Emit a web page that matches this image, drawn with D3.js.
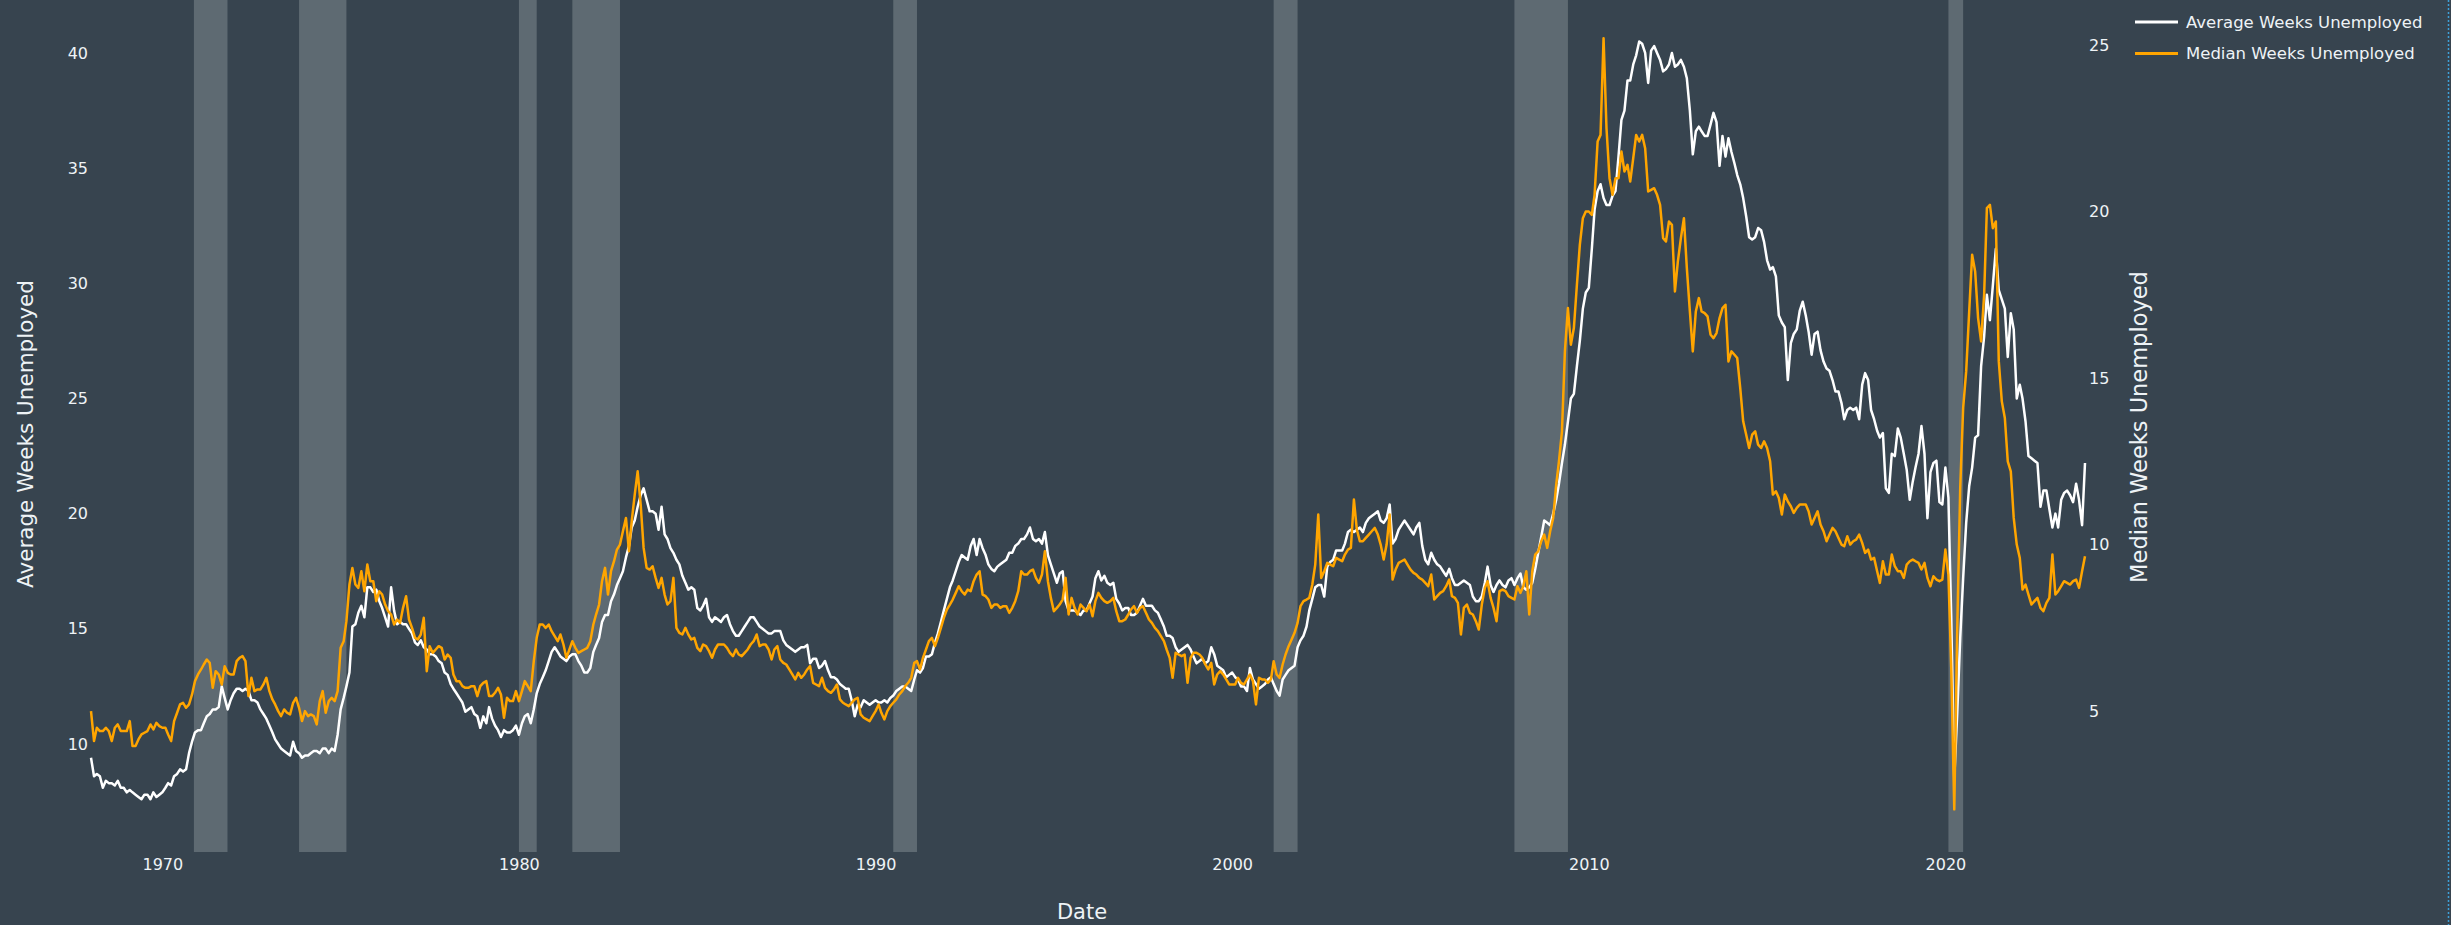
<!DOCTYPE html>
<html>
<head>
<meta charset="utf-8">
<script src="https://cdn.jsdelivr.net/npm/d3@7"></script>
<style>
  html, body { margin: 0; padding: 0; background: #37444f; }
  svg { display: block; }
  text { font-family: "DejaVu Sans", Verdana, sans-serif; fill: #eef3f6; }
</style>
</head>
<body>
<svg id="chart" width="2451" height="925"></svg>
<script>
// monthly series, first value is January 1968
const firstMonth = "1968-01";

const avgWeeks = [
  9.4, 8.6, 8.7, 8.6, 8.1, 8.4, 8.3, 8.3, 8.2, 8.4, 8.1, 8.1,          // 1968
  7.9, 8.0, 7.9, 7.8, 7.7, 7.6, 7.8, 7.8, 7.6, 7.9, 7.7, 7.8,          // 1969
  7.9, 8.1, 8.3, 8.2, 8.6, 8.7, 8.9, 8.8, 8.9, 9.6, 10.1, 10.5,        // 1970
  10.6, 10.6, 10.9, 11.2, 11.3, 11.5, 11.5, 11.6, 12.5, 12.0, 11.5, 11.9,
  12.2, 12.4, 12.4, 12.3, 12.4, 12.3, 11.9, 11.9, 11.8, 11.5, 11.3, 11.1,
  10.8, 10.5, 10.2, 10.0, 9.8, 9.7, 9.6, 9.5, 10.1, 9.7, 9.6, 9.4,
  9.5, 9.5, 9.6, 9.7, 9.7, 9.6, 9.8, 9.8, 9.6, 9.8, 9.7, 10.4,
  11.5, 12.0, 12.5, 13.1, 15.1, 15.2, 15.7, 16.0, 15.5, 16.8, 16.8, 16.6, // 1975
  16.7, 16.2, 15.9, 15.5, 15.1, 16.8, 15.8, 15.2, 15.3, 15.2, 15.2, 15.0,
  14.8, 14.4, 14.3, 14.5, 14.2, 14.1, 13.9, 13.9, 13.8, 13.6, 13.5, 13.1,
  13.0, 12.6, 12.4, 12.2, 12.0, 11.8, 11.4, 11.5, 11.6, 11.3, 11.2, 10.7,
  11.2, 10.9, 11.6, 11.1, 10.8, 10.6, 10.3, 10.6, 10.5, 10.5, 10.6, 10.8,
  10.4, 10.9, 11.2, 11.3, 10.9, 11.5, 12.2, 12.6, 12.9, 13.2, 13.6, 14.0, // 1980
  14.2, 14.0, 13.8, 13.7, 13.6, 13.8, 13.9, 13.9, 13.6, 13.4, 13.1, 13.1,
  13.3, 14.0, 14.3, 14.6, 15.3, 15.6, 15.6, 16.2, 16.5, 16.9, 17.2, 17.5,
  18.1, 18.6, 19.4, 19.7, 20.3, 20.8, 21.1, 20.6, 20.1, 20.1, 20.0, 19.3,
  20.3, 19.1, 18.9, 18.5, 18.3, 18.0, 17.8, 17.3, 17.0, 16.7, 16.8, 16.7,
  15.9, 15.8, 16.0, 16.3, 15.5, 15.3, 15.5, 15.4, 15.3, 15.5, 15.6, 15.2, // 1985
  14.9, 14.7, 14.7, 14.9, 15.1, 15.3, 15.5, 15.5, 15.3, 15.1, 15.0, 14.9,
  14.8, 14.8, 14.9, 14.9, 14.9, 14.5, 14.3, 14.2, 14.1, 14.0, 14.1, 14.2,
  14.2, 14.3, 13.5, 13.7, 13.7, 13.3, 13.4, 13.6, 13.2, 12.9, 12.9, 12.8,
  12.6, 12.5, 12.4, 12.4, 11.9, 11.2, 11.7, 11.6, 11.9, 11.8, 11.7, 11.8,
  11.9, 11.8, 11.8, 11.9, 11.8, 12.0, 12.1, 12.3, 12.4, 12.5, 12.5, 12.4, // 1990
  12.3, 12.8, 13.2, 13.1, 13.3, 13.8, 13.8, 13.9, 14.4, 14.8, 15.3, 15.8,
  16.3, 16.8, 17.1, 17.5, 17.9, 18.2, 18.1, 18.0, 18.6, 18.9, 18.2, 18.9,
  18.5, 18.2, 17.8, 17.6, 17.5, 17.7, 17.8, 17.9, 18.0, 18.3, 18.3, 18.6,
  18.7, 18.9, 18.9, 19.1, 19.4, 18.9, 18.8, 18.9, 18.7, 19.2, 18.2, 17.8,
  17.4, 17.0, 17.4, 17.5, 16.2, 15.8, 15.8, 15.8, 15.7, 15.6, 15.8, 15.8, // 1995
  16.1, 16.4, 17.2, 17.5, 17.1, 17.3, 17.0, 16.9, 17.0, 16.3, 16.1, 15.8,
  15.9, 15.9, 15.6, 15.6, 15.7, 16.0, 16.3, 16.0, 16.0, 16.0, 15.8, 15.7,
  15.4, 15.1, 14.7, 14.7, 14.6, 14.2, 14.0, 14.1, 14.2, 14.3, 14.1, 13.8,
  13.5, 13.6, 13.7, 13.5, 13.6, 14.2, 13.9, 13.4, 13.3, 13.2, 12.9, 13.0,
  13.1, 12.9, 12.8, 12.5, 12.5, 12.3, 13.3, 12.8, 12.6, 12.4, 12.5, 12.6, // 2000
  12.8, 12.9, 12.6, 12.3, 12.1, 12.8, 13.0, 13.2, 13.3, 13.4, 14.2, 14.5,
  14.7, 15.1, 15.8, 16.3, 16.8, 16.9, 16.9, 16.4, 17.7, 17.9, 18.0, 18.4,
  18.4, 18.4, 18.7, 19.2, 19.3, 19.2, 19.3, 19.4, 19.2, 19.6, 19.8, 19.9,
  20.0, 20.1, 19.7, 19.6, 19.8, 20.4, 18.7, 18.9, 19.3, 19.5, 19.7, 19.5,
  19.3, 19.1, 19.4, 19.6, 18.6, 18.0, 17.8, 18.3, 18.0, 17.8, 17.7, 17.5, // 2005
  17.3, 17.6, 17.2, 16.9, 16.9, 17.0, 17.1, 17.0, 16.9, 16.4, 16.2, 16.2,
  16.4, 17.0, 17.7, 16.9, 16.6, 16.9, 17.1, 16.9, 16.8, 17.1, 17.2, 16.9,
  17.2, 17.4, 16.8, 16.7, 16.8, 17.0, 17.6, 18.3, 19.0, 19.7, 19.6, 19.5,
  20.0, 20.6, 21.3, 22.2, 23.0, 24.0, 25.0, 25.2, 26.4, 27.5, 28.9, 29.6,
  29.8, 31.5, 33.2, 34.0, 34.3, 33.7, 33.4, 33.4, 33.8, 34.0, 35.5, 37.1, // 2010
  37.5, 38.8, 38.8, 39.5, 39.9, 40.5, 40.4, 40.0, 38.7, 40.1, 40.3, 40.0,
  39.7, 39.2, 39.3, 39.5, 40.0, 39.4, 39.5, 39.7, 39.4, 38.9, 37.5, 35.6,
  36.6, 36.8, 36.6, 36.4, 36.4, 36.9, 37.4, 37.0, 35.1, 36.4, 35.5, 36.3,
  35.7, 35.2, 34.7, 34.3, 33.7, 32.9, 32.0, 31.9, 32.0, 32.4, 32.3, 31.8,
  31.0, 30.6, 30.7, 30.3, 28.6, 28.3, 28.1, 25.8, 27.4, 27.8, 28.0, 28.8, // 2015
  29.2, 28.6, 27.9, 26.9, 27.8, 27.9, 27.1, 26.6, 26.3, 26.2, 25.8, 25.3,
  25.3, 24.8, 24.1, 24.5, 24.6, 24.5, 24.6, 24.1, 25.6, 26.1, 25.8, 24.5,
  24.1, 23.6, 23.3, 23.5, 21.1, 20.9, 22.6, 22.5, 23.7, 23.3, 22.6, 21.9,
  20.6, 21.4, 22.0, 22.6, 23.8, 22.6, 19.8, 21.8, 22.2, 22.3, 20.5, 20.4,
  22.0, 20.7, 15.5, 8.5, 11.3, 14.6, 17.2, 19.6, 21.2, 22.0, 23.3, 23.4,  // 2020
  26.4, 27.7, 29.5, 28.4, 29.9, 31.5, 29.7, 29.3, 28.9, 26.8, 28.7, 28.0,
  25.0, 25.6, 25.0, 24.0, 22.5, 22.4, 22.3, 22.2, 20.3, 21.0, 21.0, 20.2,
  19.4, 20.0, 19.4, 20.6, 20.9, 21.0, 20.8, 20.5, 21.3, 20.6, 19.5, 22.2
];

const medianWeeks = [
  5.0, 4.1, 4.5, 4.4, 4.4, 4.5, 4.4, 4.1, 4.5, 4.6, 4.4, 4.4,          // 1968
  4.4, 4.7, 3.95, 3.95, 4.15, 4.3, 4.35, 4.4, 4.6, 4.45, 4.65, 4.55,
  4.5, 4.5, 4.3, 4.1, 4.7, 4.95, 5.2, 5.25, 5.1, 5.2, 5.5, 5.9,        // 1970
  6.1, 6.25, 6.4, 6.55, 6.45, 5.7, 6.2, 6.1, 5.8, 6.35, 6.15, 6.1,
  6.1, 6.5, 6.6, 6.65, 6.5, 5.45, 6.0, 5.6, 5.65, 5.65, 5.8, 6.0,
  5.6, 5.35, 5.2, 5.0, 4.85, 5.05, 4.95, 4.9, 5.25, 5.4, 5.1, 4.7,
  5.0, 4.85, 4.9, 4.85, 4.6, 5.3, 5.6, 4.95, 5.3, 5.4, 5.3, 5.6,
  6.9, 7.1, 7.7, 8.8, 9.3, 8.8, 8.7, 9.2, 8.6, 9.4, 8.9, 8.9,          // 1975
  8.3, 8.6, 8.5, 8.2, 8.0, 7.9, 7.6, 7.75, 7.65, 8.1, 8.45, 7.75,
  7.5, 7.2, 7.15, 7.3, 7.8, 6.2, 6.95, 6.75, 6.85, 6.95, 6.9, 6.55,
  6.7, 6.6, 6.1, 5.9, 5.9, 5.75, 5.7, 5.7, 5.75, 5.75, 5.45, 5.75,
  5.85, 5.9, 5.45, 5.45, 5.55, 5.7, 5.5, 4.8, 5.4, 5.3, 5.3, 5.6,
  5.3, 5.6, 5.9, 5.75, 5.6, 6.5, 7.2, 7.6, 7.6, 7.5, 7.6, 7.4,         // 1980
  7.25, 7.1, 7.3, 7.0, 6.6, 6.85, 7.1, 6.9, 6.75, 6.8, 6.85, 6.9,
  7.1, 7.6, 7.9, 8.2, 8.9, 9.3, 8.5, 9.2, 9.5, 9.85, 10.0, 10.4,
  10.8, 9.8, 10.7, 11.5, 12.2, 11.2, 9.9, 9.3, 9.25, 9.35, 9.0, 8.7,
  9.0, 8.5, 8.2, 8.3, 9.0, 7.5, 7.35, 7.3, 7.5, 7.3, 7.15, 7.2,
  6.9, 6.8, 7.0, 6.95, 6.8, 6.6, 6.85, 7.0, 7.0, 7.0, 6.9, 6.75,       // 1985
  6.65, 6.85, 6.7, 6.65, 6.75, 6.85, 7.0, 7.1, 7.3, 6.95, 7.0, 7.0,
  6.85, 6.55, 6.85, 6.95, 6.55, 6.45, 6.4, 6.25, 6.1, 5.95, 6.15, 6.0,
  6.1, 6.25, 6.35, 5.85, 5.8, 5.75, 6.0, 5.7, 5.6, 5.55, 5.65, 5.8,
  5.35, 5.25, 5.2, 5.15, 5.25, 5.35, 5.4, 4.9, 4.8, 4.75, 4.7, 4.85,
  5.0, 5.2, 4.95, 4.75, 5.0, 5.15, 5.25, 5.35, 5.5, 5.6, 5.75, 5.85,   // 1990
  6.0, 6.45, 6.5, 6.25, 6.6, 6.85, 7.1, 7.2, 6.95, 7.2, 7.5, 7.8,
  8.05, 8.2, 8.35, 8.55, 8.75, 8.6, 8.5, 8.65, 8.6, 8.9, 9.1, 9.2,
  8.5, 8.45, 8.35, 8.1, 8.2, 8.2, 8.1, 8.15, 8.15, 7.95, 8.1, 8.3,
  8.6, 9.2, 9.1, 9.1, 9.2, 9.25, 9.0, 8.85, 9.1, 9.8, 8.9, 8.4,
  8.0, 8.1, 8.2, 8.35, 9.0, 7.9, 8.4, 8.1, 7.9, 8.2, 8.1, 8.0,         // 1995
  8.2, 7.85, 8.3, 8.55, 8.4, 8.3, 8.25, 8.3, 8.4, 8.0, 7.7, 7.7,
  7.75, 7.9, 8.05, 8.15, 7.95, 8.1, 8.15, 7.95, 7.75, 7.65, 7.5, 7.4,
  7.25, 7.1, 6.85, 6.6, 6.0, 6.75, 6.7, 6.65, 6.7, 5.85, 6.6, 6.75,
  6.75, 6.7, 6.6, 6.4, 6.25, 6.45, 5.8, 6.1, 6.2, 6.1, 5.95, 5.8,
  5.8, 5.8, 6.0, 5.85, 5.8, 5.95, 6.1, 5.9, 5.2, 6.0, 5.95, 5.95,      // 2000
  5.85, 5.95, 6.5, 6.1, 6.0, 6.4, 6.7, 6.95, 7.15, 7.35, 7.65, 8.15,
  8.3, 8.35, 8.4, 8.8, 9.4, 10.9, 9.0, 9.2, 9.45, 9.4, 9.35, 9.6,
  9.55, 9.5, 9.7, 9.85, 9.9, 11.35, 10.45, 10.1, 10.1, 10.2, 10.3, 10.4,
  10.5, 10.3, 10.0, 9.55, 10.0, 10.9, 8.95, 9.25, 9.45, 9.5, 9.55, 9.4,
  9.25, 9.15, 9.1, 9.0, 8.95, 8.85, 8.75, 9.1, 8.35, 8.45, 8.55, 8.6,  // 2005
  8.75, 8.95, 8.45, 8.4, 8.25, 7.3, 8.1, 8.2, 7.95, 7.9, 7.7, 7.45,
  8.2, 8.7, 8.9, 8.4, 8.1, 7.7, 8.6, 8.65, 8.6, 8.45, 8.4, 8.35,
  8.75, 8.55, 8.75, 9.2, 7.9, 9.2, 9.7, 9.8, 10.1, 10.3, 9.9, 10.4,
  10.8, 11.8, 12.5, 13.4, 15.8, 17.1, 16.0, 16.5, 17.8, 19.0, 19.8, 20.0,
  20.0, 19.9, 20.5, 22.1, 22.3, 25.2, 22.5, 21.0, 20.5, 21.0, 21.0, 21.8, // 2010
  21.2, 21.4, 20.9, 21.6, 22.3, 22.1, 22.3, 21.9, 20.6, 20.65, 20.7, 20.5,
  20.2, 19.2, 19.1, 19.7, 19.6, 17.6, 18.5, 19.2, 19.8, 18.3, 17.0, 15.8,
  17.0, 17.4, 17.0, 16.95, 16.85, 16.3, 16.2, 16.35, 16.8, 17.1, 17.2, 15.5,
  15.8, 15.7, 15.6, 14.7, 13.7, 13.3, 12.9, 13.3, 13.4, 13.0, 12.9, 13.1,
  12.9, 12.5, 11.5, 11.6, 11.4, 10.9, 11.5, 11.3, 11.15, 10.95, 11.1, 11.2, // 2015
  11.2, 11.2, 11.0, 10.6, 10.8, 11.0, 10.6, 10.4, 10.1, 10.3, 10.5, 10.4,
  10.2, 10.0, 9.95, 10.25, 10.0, 10.1, 10.15, 10.3, 10.05, 9.75, 9.85, 9.55,
  9.6, 9.2, 8.85, 9.5, 9.1, 9.1, 9.7, 9.35, 9.2, 9.2, 9.0, 9.4,
  9.5, 9.55, 9.5, 9.45, 9.25, 9.45, 9.0, 8.75, 9.05, 8.95, 8.9, 8.95,
  9.85, 9.1, 6.3, 2.05, 7.4, 11.7, 14.1, 15.2, 17.0, 18.7, 18.2, 16.8,   // 2020
  16.1, 17.5, 20.1, 20.2, 19.5, 19.7, 15.5, 14.3, 13.8, 12.5, 12.2, 10.8,
  10.0, 9.6, 8.65, 8.8, 8.5, 8.2, 8.3, 8.4, 8.1, 8.0, 8.25, 8.4,
  9.7, 8.5, 8.6, 8.75, 8.9, 8.85, 8.8, 8.9, 8.95, 8.7, 9.2, 9.65
];

const recessionStarts = ["1970-11-20", "1973-11-01", "1980-01-01", "1981-07-01",
                         "1990-07-01", "2001-03-01", "2007-12-01", "2020-02-01"];
const recessionEnds   = ["1971-10-30", "1975-03-01", "1980-07-01", "1982-11-01",
                         "1991-03-01", "2001-11-01", "2009-06-01", "2020-07-01"];

const yearTicks = [1970, 1980, 1990, 2000, 2010, 2020];
const avgTicks = [10, 15, 20, 25, 30, 35, 40];
const medianTicks = [5, 10, 15, 20, 25];
const seriesNames = ["Average Weeks Unemployed", "Median Weeks Unemployed"];

const W = 2451, H = 925;
const plot = { left: 91, right: 2085, top: 0, bottom: 852 };
const colors = ["#ffffff", "#ffa500"];

const start = d3.timeParse("%Y-%m")(firstMonth);
const monthDate = i => d3.timeMonth.offset(start, i);
const avgData = avgWeeks.map((v, i) => ({ date: monthDate(i), value: v }));
const medData = medianWeeks.map((v, i) => ({ date: monthDate(i), value: v }));

const x = d3.scaleTime()
  .domain([start, monthDate(avgWeeks.length - 1)])
  .range([plot.left, plot.right]);
const yLeft = d3.scaleLinear().domain([5.31, 42.30]).range([plot.bottom, plot.top]);
const yRight = d3.scaleLinear().domain([0.77, 26.35]).range([plot.bottom, plot.top]);

const svg = d3.select("#chart");
svg.append("rect").attr("width", W).attr("height", H).attr("fill", "#37444f");

// recession shading
const parseDay = d3.timeParse("%Y-%m-%d");
svg.append("g")
  .selectAll("rect")
  .data(recessionStarts.map((s, i) => [parseDay(s), parseDay(recessionEnds[i])]))
  .join("rect")
  .attr("x", d => x(d[0]))
  .attr("width", d => x(d[1]) - x(d[0]))
  .attr("y", plot.top)
  .attr("height", plot.bottom - plot.top)
  .attr("fill", "#5e6a72");

// axes, no lines or ticks, labels only
const tickFont = g => g.call(s => s.select(".domain").remove())
  .selectAll("text")
  .attr("fill", "#eef3f6")
  .style("font-size", "16px")
  .style("font-family", "'DejaVu Sans', Verdana, sans-serif");

svg.append("g")
  .attr("transform", `translate(${plot.left},0)`)
  .call(d3.axisLeft(yLeft).tickValues(avgTicks).tickSize(0).tickPadding(3))
  .call(tickFont);

svg.append("g")
  .attr("transform", `translate(${plot.right},0)`)
  .call(d3.axisRight(yRight).tickValues(medianTicks).tickSize(0).tickPadding(4))
  .call(tickFont);

svg.append("g")
  .attr("transform", `translate(0,${plot.bottom})`)
  .call(d3.axisBottom(x)
    .tickValues(yearTicks.map(y => new Date(y, 0, 1)))
    .tickFormat(d3.timeFormat("%Y"))
    .tickSize(0).tickPadding(7))
  .call(tickFont);

// lines
const lineAvg = d3.line().x(d => x(d.date)).y(d => yLeft(d.value));
const lineMed = d3.line().x(d => x(d.date)).y(d => yRight(d.value));

svg.append("path").datum(avgData)
  .attr("d", lineAvg)
  .attr("fill", "none").attr("stroke", colors[0])
  .attr("stroke-width", 2.5).attr("stroke-linejoin", "round");

svg.append("path").datum(medData)
  .attr("d", lineMed)
  .attr("fill", "none").attr("stroke", colors[1])
  .attr("stroke-width", 2.5).attr("stroke-linejoin", "round");

// axis titles
svg.append("text")
  .attr("transform", "translate(25,434) rotate(-90)")
  .attr("text-anchor", "middle").attr("dominant-baseline", "central")
  .style("font-size", "21.5px")
  .text(seriesNames[0]);

svg.append("text")
  .attr("transform", "translate(2139,427) rotate(-90)")
  .attr("text-anchor", "middle").attr("dominant-baseline", "central")
  .style("font-size", "22.5px")
  .text(seriesNames[1]);

svg.append("text")
  .attr("x", 1082).attr("y", 919)
  .attr("text-anchor", "middle")
  .style("font-size", "21px")
  .text("Date");

// legend
const legend = svg.append("g").attr("transform", "translate(2135,22)");
seriesNames.forEach((name, i) => {
  const row = legend.append("g").attr("transform", `translate(0,${i * 31.5})`);
  row.append("line").attr("x1", 0).attr("x2", 43)
    .attr("stroke", colors[i]).attr("stroke-width", 3);
  row.append("text").attr("x", 51).attr("dy", "0.35em")
    .style("font-size", "16.5px")
    .text(name);
});

// dotted frame edge on the right
svg.append("line")
  .attr("x1", 2448.5).attr("x2", 2448.5).attr("y1", 0).attr("y2", H)
  .attr("stroke", "#3d9fd8").attr("stroke-width", 1.5)
  .attr("stroke-dasharray", "2 2");
</script>
</body>
</html>
